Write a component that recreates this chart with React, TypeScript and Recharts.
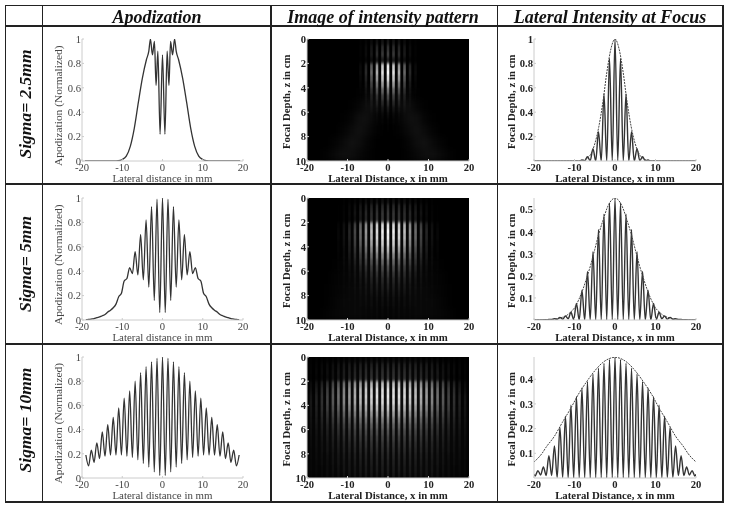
import { CartesianGrid, Line, LineChart, Scatter, ScatterChart, XAxis, YAxis } from "recharts";

// fringe positions for the half x >= 0, peaks and valleys alternate
const fringeX = [0, 0.68, 1.36, 2.04, 2.72, 3.4, 4.08, 4.76, 5.44, 6.12, 6.8, 7.48, 8.16, 8.84, 9.52, 10.2, 10.88, 11.56, 12.24, 12.92, 13.6, 14.28, 14.96, 15.64, 16.32, 17, 17.68, 18.36, 19.04, 19.72, 20];

const apodX1 = [0, 0.6, 1.15, 1.6, 2, 2.5, 3, 3.4, 4, 5, 6, 7, 8, 9, 10, 11, 12, 19.3];
const apodY1 = [0.87, 0.22, 0.9, 0.62, 0.98, 0.87, 1, 0.9, 0.83, 0.68, 0.48, 0.27, 0.12, 0.04, 0.012, 0.002, 0, 0];
const apodY2 = [1, 0.06, 0.99, 0.16, 0.93, 0.27, 0.82, 0.33, 0.7, 0.37, 0.56, 0.38, 0.43, 0.34, 0.32, 0.22, 0.19, 0.13, 0.1, 0.08, 0.065, 0.045, 0.035, 0.025, 0.02, 0.012, 0.008, 0.005, 0.002];
const apodY3 = [1, 0.02, 0.99, 0.05, 0.96, 0.09, 0.92, 0.12, 0.87, 0.15, 0.8, 0.17, 0.72, 0.18, 0.66, 0.19, 0.58, 0.19, 0.5, 0.19, 0.44, 0.18, 0.38, 0.16, 0.29, 0.13, 0.23, 0.1, 0.19];

const focusY1 = [1, 0, 0.84, 0, 0.55, 0, 0.24, 0, 0.1, 0.003, 0.035, 0.002, 0.008, 0, 0.002, 0, 0, 0, 0, 0, 0, 0, 0, 0, 0, 0, 0, 0, 0, 0, 0];
const focusY2 = [0.553, 0, 0.53, 0, 0.48, 0, 0.41, 0, 0.31, 0, 0.22, 0, 0.135, 0, 0.075, 0.002, 0.035, 0.005, 0.018, 0.004, 0.012, 0.003, 0.006, 0.002, 0.003, 0.001, 0.001, 0, 0, 0, 0];
const focusY3 = [0.489, 0, 0.48, 0, 0.465, 0, 0.445, 0, 0.42, 0, 0.39, 0, 0.365, 0, 0.33, 0, 0.295, 0, 0.25, 0.002, 0.205, 0.002, 0.13, 0.01, 0.09, 0.01, 0.045, 0.012, 0.03, 0.008, 0.015];

const envX1 = [0, 1, 2, 3, 4, 5, 6, 7, 8, 10, 20];
const envY1 = [1, 0.92, 0.73, 0.48, 0.28, 0.14, 0.055, 0.02, 0.005, 0, 0];
const envX2 = [0, 1, 2, 3, 4, 5, 6, 7, 8, 9, 10, 11, 12, 13, 14, 16, 18, 20];
const envY2 = [0.553, 0.54, 0.505, 0.45, 0.39, 0.32, 0.25, 0.19, 0.135, 0.09, 0.055, 0.035, 0.02, 0.012, 0.007, 0.002, 0.001, 0];
const envX3 = [0, 1, 3, 5, 7, 9, 11, 13, 15, 17, 18, 20];
const envY3 = [0.489, 0.486, 0.468, 0.434, 0.39, 0.34, 0.28, 0.225, 0.168, 0.125, 0.1, 0.065];

// brightness 0-100 of the bright stripes: one row per depth, one column per stripe going out from x=0
const stripeX = [0, 1.36, 2.72, 4.08, 5.44, 6.8, 8.16, 9.52, 10.88, 12.24, 13.6, 14.96, 16.32, 17.68, 19.04];
const stripeZ = [0.25, 0.75, 1.25, 1.75, 2.25, 2.75, 3.25, 3.75, 4.25, 4.75, 5.25, 5.75, 6.25, 6.75, 7.25, 7.75, 8.25, 8.75, 9.25, 9.75];
const stripes1 = [
  [15, 14, 12, 9, 5, 2],
  [28, 26, 22, 15, 8, 3],
  [34, 31, 26, 17, 9, 3],
  [20, 18, 15, 10, 5, 2],
  [95, 85, 68, 45, 22, 8],
  [100, 92, 75, 50, 24, 9],
  [90, 82, 66, 42, 20, 7],
  [72, 66, 52, 34, 15, 5],
  [52, 47, 38, 24, 10, 3],
  [36, 32, 25, 16, 7, 2],
  [24, 21, 16, 10, 4, 1],
  [14, 12, 9, 6, 2, 0],
  [8, 7, 5, 3, 1, 0],
  [4, 4, 3, 2],
  [2, 2, 1, 1],
];
const stripes2 = [
  [12, 12, 11, 10, 9, 7, 5, 3, 2, 0],
  [25, 24, 23, 21, 18, 15, 11, 7, 3, 1],
  [30, 29, 27, 25, 22, 18, 13, 8, 4, 1],
  [30, 29, 27, 25, 21, 16, 11, 7, 4, 1],
  [92, 90, 85, 76, 62, 48, 33, 20, 11, 5],
  [100, 97, 90, 80, 66, 51, 36, 22, 12, 6],
  [96, 93, 87, 77, 63, 49, 34, 21, 12, 6],
  [88, 85, 79, 70, 58, 44, 31, 19, 11, 5],
  [76, 74, 68, 60, 50, 38, 27, 17, 9, 5],
  [62, 60, 56, 49, 41, 31, 22, 14, 8, 4],
  [48, 47, 43, 38, 32, 25, 17, 11, 6, 3],
  [37, 36, 33, 29, 24, 19, 13, 8, 5, 3],
  [28, 27, 25, 22, 18, 14, 10, 6, 4, 2],
  [21, 20, 19, 17, 14, 11, 8, 5, 3, 2],
  [16, 15, 14, 13, 10, 8, 6, 4, 3, 2],
  [12, 12, 11, 10, 8, 6, 5, 3, 2, 1],
  [9, 9, 8, 7, 6, 5, 4, 3, 2, 1],
  [7, 7, 6, 6, 5, 4, 3, 2, 2, 1],
  [5, 5, 5, 4, 4, 3, 3, 2, 1, 1],
  [4, 4, 4, 3, 3, 3, 2, 2, 1, 1],
];
const stripes3 = [
  [8, 8, 8, 8, 8, 7, 7, 7, 6, 6, 5, 4, 3, 3, 2],
  [20, 20, 20, 19, 19, 18, 17, 16, 14, 13, 11, 9, 7, 5, 3],
  [24, 24, 23, 23, 22, 21, 20, 18, 16, 15, 12, 10, 8, 6, 4],
  [26, 26, 25, 25, 24, 23, 21, 19, 17, 14, 12, 9, 7, 5, 3],
  [80, 80, 78, 76, 72, 68, 63, 57, 50, 43, 35, 27, 20, 14, 9],
  [92, 91, 90, 87, 83, 78, 72, 65, 58, 50, 41, 32, 24, 17, 11],
  [94, 93, 92, 89, 85, 80, 74, 67, 60, 52, 43, 34, 26, 19, 13],
  [90, 89, 88, 85, 81, 77, 71, 65, 58, 50, 42, 34, 26, 20, 14],
  [80, 79, 78, 76, 72, 68, 63, 58, 52, 45, 38, 31, 24, 18, 13],
  [68, 67, 66, 64, 61, 58, 54, 49, 44, 38, 32, 26, 21, 16, 12],
  [56, 55, 54, 53, 50, 48, 44, 40, 36, 32, 27, 22, 18, 14, 10],
  [46, 45, 44, 43, 41, 39, 36, 33, 30, 26, 22, 18, 15, 12, 9],
  [38, 37, 36, 35, 34, 32, 30, 27, 25, 22, 18, 15, 13, 10, 8],
  [31, 31, 30, 29, 28, 27, 25, 23, 21, 18, 15, 13, 11, 9, 7],
  [26, 26, 25, 25, 24, 22, 21, 19, 17, 15, 13, 11, 9, 8, 6],
  [22, 22, 21, 21, 20, 19, 18, 16, 15, 13, 11, 10, 8, 7, 5],
  [19, 19, 18, 18, 17, 16, 15, 14, 13, 11, 10, 8, 7, 6, 5],
  [16, 16, 16, 15, 15, 14, 13, 12, 11, 10, 9, 7, 6, 5, 4],
  [14, 14, 14, 13, 13, 12, 11, 11, 10, 9, 8, 6, 5, 5, 4],
  [13, 13, 12, 12, 12, 11, 10, 10, 9, 8, 7, 6, 5, 4, 3],
];

// faint smooth light under the stripes: one row per cm of depth, one column per 2mm
const washX = [1, 3, 5, 7, 9, 11, 13, 15, 17, 19];
const washZ = [0.5, 1.5, 2.5, 3.5, 4.5, 5.5, 6.5, 7.5, 8.5, 9.5];
const wash1 = [
  [0],
  [1],
  [2, 1],
  [2, 2, 1],
  [3, 6, 5, 1],
  [3, 8, 12, 5, 1],
  [1, 4, 12, 12, 4, 1],
  [0, 2, 8, 13, 9, 3],
  [0, 0, 4, 10, 13, 8, 3],
  [0, 0, 2, 6, 11, 12, 7, 2],
];
const wash2 = [
  [1, 1, 1],
  [2, 2, 2, 1],
  [5, 5, 4, 3, 2],
  [6, 6, 5, 4, 2, 1],
  [6, 6, 5, 4, 3, 1],
  [6, 6, 6, 5, 4, 3, 1],
  [6, 6, 6, 5, 5, 4, 2],
  [6, 6, 6, 6, 6, 5, 3, 1],
  [5, 5, 6, 6, 6, 6, 4, 1],
  [4, 5, 5, 6, 6, 6, 5, 2],
];
const wash3 = [
  [3, 3, 3, 3, 2, 2, 1, 1],
  [5, 5, 5, 4, 4, 3, 2, 1],
  [9, 9, 8, 8, 7, 6, 4, 3, 2, 1],
  [10, 10, 10, 9, 9, 8, 6, 5, 3, 2],
  [10, 10, 10, 9, 9, 8, 7, 6, 4, 3],
  [9, 9, 9, 9, 8, 8, 7, 6, 5, 4],
  [8, 8, 8, 8, 8, 7, 7, 6, 5, 4],
  [7, 7, 7, 7, 7, 7, 6, 6, 5, 4],
  [6, 6, 6, 6, 6, 6, 6, 5, 5, 4],
  [6, 6, 6, 6, 6, 6, 5, 5, 4, 4],
];

const xTicks = [-20, -10, 0, 10, 20];
const apodTicks = [0, 0.2, 0.4, 0.6, 0.8, 1];
const depthTicks = [0, 2, 4, 6, 8, 10];
const focusTicks1 = [0.2, 0.4, 0.6, 0.8, 1];
const focusTicks2 = [0.1, 0.2, 0.3, 0.4, 0.5];
const focusTicks3 = [0.1, 0.2, 0.3, 0.4];

const headers = ["Apodization", "Image of intensity pattern", "Lateral Intensity at Focus"];
const rowLabels = ["Sigma= 2.5mm", "Sigma= 5mm", "Sigma= 10mm"];

const SERIF = "'Liberation Serif', serif";
const plotTops = [39, 198, 357];
const plotHeights = [122, 122, 121];
const colLefts = [82, 307, 534];
const colWidths = [161, 162, 162];
const LEFT = 44;
const TOP = 6;
const BOTTOM = 30;
const RIGHT = 12;
const X_LABEL_OFFSET = 9;

type Pt = { x: number; y: number };

// x >= 0 half of a curve -> whole curve
function mirrored(xs: number[], ys: number[]): Pt[] {
  const right = ys.map((y, i) => ({ x: xs[i], y }));
  const left = right.slice(1).reverse().map((p) => ({ x: -p.x, y: p.y }));
  return [...left, ...right];
}

function cells(xs: number[], zs: number[], table: number[][]) {
  const out: { x: number; z: number; v: number }[] = [];
  table.forEach((row, r) => {
    row.forEach((v, k) => {
      if (v <= 0) return;
      out.push({ x: xs[k], z: zs[r], v });
      if (xs[k] !== 0) out.push({ x: -xs[k], z: zs[r], v });
    });
  });
  return out;
}

function frame(col: number, row: number) {
  return {
    position: "absolute" as const,
    left: colLefts[col] - LEFT,
    top: plotTops[row] - TOP,
  };
}

function CurvePanel({ col, row, ticks, domain, bold, main, envelope }: {
  col: number;
  row: number;
  ticks: number[];
  domain: number[];
  bold: boolean;
  main: Pt[];
  envelope?: Pt[];
}) {
  const font = { fontFamily: SERIF, fontSize: 10.6, fontWeight: bold ? 700 : 400, fill: bold ? "#222" : "#444" };
  const labelFont = { ...font, fontSize: bold ? 10.8 : 10.9 };
  const yFont = { ...font, fontSize: bold ? 10.8 : 11.4 };
  const xLabel = bold ? "Lateral Distance, x in mm" : "Lateral distance in mm";
  return (
    <div style={frame(col, row)}>
      <LineChart
        width={LEFT + colWidths[col] + RIGHT}
        height={TOP + plotHeights[row] + BOTTOM}
        margin={{ top: TOP, right: RIGHT, bottom: 0, left: 0 }}
      >
        <XAxis
          dataKey="x" type="number" domain={[-20, 20]} ticks={xTicks} height={BOTTOM} interval={0}
          allowDataOverflow stroke="#ccc" tickSize={-2} tickMargin={4} tick={font}
          label={{ value: xLabel, position: "insideBottom", offset: X_LABEL_OFFSET, style: labelFont }}
        />
        <YAxis
          type="number" domain={domain} ticks={ticks} width={LEFT} interval={0}
          allowDataOverflow stroke="#ccc" tickSize={-2} tickMargin={3} tick={font}
          label={{ value: bold ? "Focal Depth, z in cm" : "Apodization (Normalized)", angle: -90, position: "insideLeft", offset: bold ? 21 : 20, dy: bold ? 49 : 66, style: yFont }}
        />
        <XAxis xAxisId="top" orientation="top" type="number" domain={[-20, 20]} ticks={xTicks} height={0} stroke="#ccc" tickSize={-2} tick={false} />
        <YAxis yAxisId="right" orientation="right" type="number" domain={domain} ticks={ticks} width={0} stroke="#ccc" tickSize={-2} tick={false} />
        <Line data={main} dataKey="y" type="monotone" stroke="#333" strokeWidth={col === 0 ? 1.3 : 1.4} dot={false} isAnimationActive={false} />
        {envelope && (
          <Line data={envelope} dataKey="y" type="monotone" stroke="#444" strokeWidth={1} strokeDasharray="2 1" dot={false} isAnimationActive={false} />
        )}
      </LineChart>
    </div>
  );
}

function HeatPanel({ row, stripes, wash }: { row: number; stripes: number[][]; wash: number[][] }) {
  const font = { fontFamily: SERIF, fontSize: 10.6, fontWeight: 700, fill: "#222" };
  const labelFont = { ...font, fontSize: 10.8 };
  const w = colWidths[1];
  const h = plotHeights[row];
  const pxPerMm = w / 40;
  const pxPerCm = h / 10;
  const stripeShape = (p: any) => (
    <rect x={p.cx - 0.32 * pxPerMm} y={p.cy - 0.25 * pxPerCm} width={0.64 * pxPerMm} height={0.5 * pxPerCm} fill="#fff" fillOpacity={Math.pow(p.payload.v / 100, 1.3)} />
  );
  const washShape = (p: any) => (
    <rect x={p.cx - pxPerMm} y={p.cy - 0.5 * pxPerCm} width={2 * pxPerMm} height={pxPerCm} fill="#fff" fillOpacity={0.5 * p.payload.v / 100} />
  );
  return (
    <div style={frame(1, row)}>
      <ScatterChart
        width={LEFT + w + RIGHT}
        height={TOP + h + BOTTOM}
        margin={{ top: TOP, right: RIGHT, bottom: 0, left: 0 }}
      >
        <CartesianGrid horizontal={false} vertical={false} fill="#000" />
        <XAxis
          dataKey="x" type="number" domain={[-20, 20]} ticks={xTicks} height={BOTTOM} interval={0}
          stroke="#ccc" tickSize={-2} tickMargin={4} tick={font}
          label={{ value: "Lateral Distance, x in mm", position: "insideBottom", offset: X_LABEL_OFFSET, style: labelFont }}
        />
        <YAxis
          dataKey="z" type="number" domain={[0, 10]} reversed ticks={depthTicks} width={LEFT} interval={0}
          stroke="#ccc" tickSize={-2} tickMargin={3} tick={font}
          label={{ value: "Focal Depth, z in cm", angle: -90, position: "insideLeft", offset: 23, dy: 49, style: labelFont }}
        />
        <Scatter className="heat-wash" data={cells(washX, washZ, wash)} shape={washShape} isAnimationActive={false} />
        <Scatter className="heat-stripes" data={cells(stripeX, stripeZ, stripes)} shape={stripeShape} isAnimationActive={false} />
      </ScatterChart>
    </div>
  );
}

const hLines = [5.5, 26, 184, 344, 502];
const vLines = [5.5, 42.5, 271, 497.5, 723];
const headerCenters = [157, 383, 610];
const rowCenters = [104, 264, 420];

export default function App() {
  return (
    <div style={{ position: "absolute", left: 0, top: 0, width: 729, height: 509, background: "#fff", overflow: "hidden", filter: "blur(0.45px)" }}>
      <style>{`
        .heat-wash { filter: blur(3px); }
        .heat-stripes { filter: url(#stripeBlur); }
      `}</style>
      {/* stripes blur more along the depth so the rows of cells melt together */}
      <svg width={0} height={0} style={{ position: "absolute" }}>
        <defs>
          <filter id="stripeBlur" x="-5%" y="-5%" width="110%" height="110%" colorInterpolationFilters="sRGB">
            <feGaussianBlur stdDeviation="0.55 1.4" />
          </filter>
        </defs>
      </svg>
      {hLines.map((y) => (
        <div key={y} style={{ position: "absolute", left: 5, top: y - 0.75, width: 719, height: 1.5, background: "#222" }} />
      ))}
      {vLines.map((x) => (
        <div key={x} style={{ position: "absolute", left: x - 0.75, top: 5, width: 1.5, height: 498, background: "#222" }} />
      ))}
      {headers.map((t, i) => (
        <div key={t} style={{ position: "absolute", left: headerCenters[i] - 110, width: 220, top: 7, textAlign: "center", fontFamily: SERIF, fontWeight: 700, fontStyle: "italic", fontSize: 18, lineHeight: "20px", color: "#111" }}>{t}</div>
      ))}
      {rowLabels.map((t, i) => (
        <div key={t} style={{ position: "absolute", left: 25 - 70, top: rowCenters[i] - 10, width: 140, height: 20, textAlign: "center", transform: "rotate(-90deg)", fontFamily: SERIF, fontWeight: 700, fontStyle: "italic", fontSize: 17.5, lineHeight: "20px", color: "#111" }}>{t}</div>
      ))}

      <CurvePanel col={0} row={0} ticks={apodTicks} domain={[0, 1]} bold={false} main={mirrored(apodX1, apodY1)} />
      <CurvePanel col={0} row={1} ticks={apodTicks} domain={[0, 1]} bold={false} main={mirrored(fringeX, apodY2)} />
      <CurvePanel col={0} row={2} ticks={apodTicks} domain={[0, 1]} bold={false} main={mirrored(fringeX, apodY3)} />

      <HeatPanel row={0} stripes={stripes1} wash={wash1} />
      <HeatPanel row={1} stripes={stripes2} wash={wash2} />
      <HeatPanel row={2} stripes={stripes3} wash={wash3} />

      <CurvePanel col={2} row={0} ticks={focusTicks1} domain={[0, 1]} bold main={mirrored(fringeX, focusY1)} envelope={mirrored(envX1, envY1)} />
      <CurvePanel col={2} row={1} ticks={focusTicks2} domain={[0, 0.553]} bold main={mirrored(fringeX, focusY2)} envelope={mirrored(envX2, envY2)} />
      <CurvePanel col={2} row={2} ticks={focusTicks3} domain={[0, 0.49]} bold main={mirrored(fringeX, focusY3)} envelope={mirrored(envX3, envY3)} />
    </div>
  );
}
